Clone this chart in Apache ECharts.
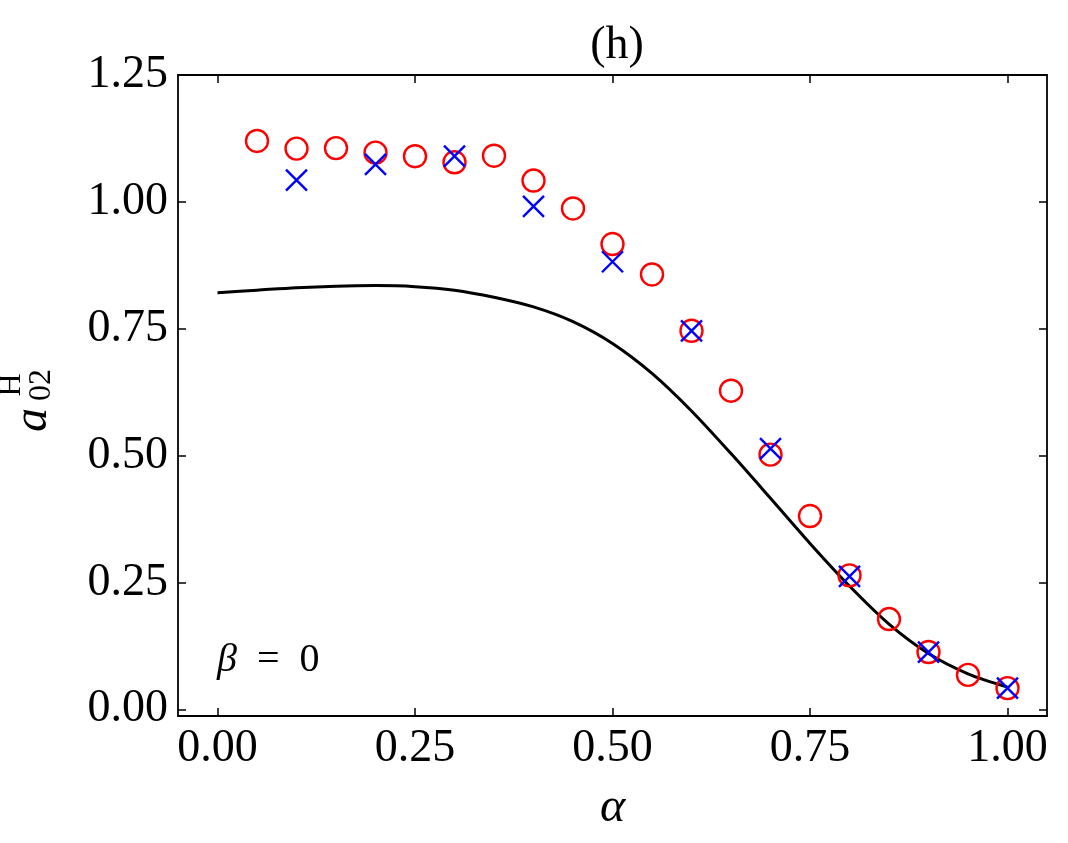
<!DOCTYPE html>
<html>
<head>
<meta charset="utf-8">
<script src="https://cdn.jsdelivr.net/npm/echarts@6/dist/echarts.min.js"></script>
<style>
  html, body { margin: 0; padding: 0; background: #fff; }
  #chart { width: 1068px; height: 843px; }
</style>
</head>
<body>
<div id="chart"></div>
<script>
// data
const alphaCircles = [0.05, 0.10, 0.15, 0.20, 0.25, 0.30, 0.35, 0.40, 0.45, 0.50,
  0.55, 0.60, 0.65, 0.70, 0.75, 0.80, 0.85, 0.90, 0.95, 1.00];
const circleVals = [1.120, 1.105, 1.106, 1.097, 1.090, 1.078, 1.091, 1.042, 0.987, 0.917,
  0.857, 0.746, 0.628, 0.502, 0.381, 0.264, 0.178, 0.113, 0.068, 0.042];

const alphaCrosses = [0.1, 0.2, 0.3, 0.4, 0.5, 0.6, 0.7, 0.8, 0.9, 1.0];
const crossVals = [1.043, 1.074, 1.090, 0.991, 0.882, 0.746, 0.514, 0.262, 0.113, 0.042];

const alphaCurve = [0.00, 0.05, 0.10, 0.15, 0.20, 0.25, 0.30, 0.35, 0.40, 0.45, 0.50,
  0.55, 0.60, 0.65, 0.70, 0.75, 0.80, 0.85, 0.90, 0.95, 1.00];
const curveVals = [0.821, 0.826, 0.831, 0.834, 0.835, 0.833, 0.826, 0.812, 0.793, 0.764, 0.721,
  0.662, 0.588, 0.504, 0.416, 0.327, 0.243, 0.168, 0.110, 0.070, 0.044];

const xTicks = [0, 0.25, 0.5, 0.75, 1.0];
const yTicks = [0, 0.25, 0.5, 0.75, 1.0, 1.25];

const FONT = '"Liberation Serif", "DejaVu Serif", serif';
const X_MIN = -0.05, X_MAX = 1.05;
const Y_MIN = -0.013, Y_MAX = 1.25;

const zip = (xs, ys) => xs.map((x, i) => [x, ys[i]]);

function axisBase(min, max, ticks, position, showLabels) {
  return {
    type: 'value',
    position,
    min,
    max,
    splitLine: { show: false },
    axisLine: { show: true, onZero: false, lineStyle: { color: '#000', width: 1.8 } },
    axisTick: {
      show: true,
      inside: true,
      length: 8,
      customValues: ticks,
      lineStyle: { color: '#000', width: 1.5 }
    },
    axisLabel: {
      show: showLabels,
      customValues: ticks,
      formatter: (v) => v.toFixed(2),
      color: '#000',
      fontFamily: FONT,
      fontSize: 46,
      margin: 10
    }
  };
}

const chart = echarts.init(document.getElementById('chart'), null, { renderer: 'canvas' });

chart.setOption({
  animation: false,
  title: {
    text: '(h)',
    left: 612,
    top: 18,
    textAlign: 'center',
    textStyle: { fontFamily: FONT, fontSize: 46, fontWeight: 'normal', color: '#000' }
  },
  grid: { left: 178, right: 21, top: 75, bottom: 127, outerBoundsMode: 'none', containLabel: false },
  xAxis: [
    Object.assign(axisBase(X_MIN, X_MAX, xTicks, 'bottom', true), {
      name: 'α',
      nameLocation: 'middle',
      nameGap: 68,
      nameTextStyle: { fontFamily: FONT, fontStyle: 'italic', fontSize: 48, color: '#000' }
    }),
    axisBase(X_MIN, X_MAX, xTicks, 'top', false)
  ],
  yAxis: [
    axisBase(Y_MIN, Y_MAX, yTicks, 'left', true),
    axisBase(Y_MIN, Y_MAX, yTicks, 'right', false)
  ],
  graphic: [
    { type: 'text', x: 33, y: 420, rotation: Math.PI / 2,
      style: { text: 'a', font: 'italic 48px ' + FONT, fill: '#000', align: 'center', verticalAlign: 'middle' } },
    { type: 'text', x: 42, y: 385, rotation: Math.PI / 2,
      style: { text: '02', font: '32px ' + FONT, fill: '#000', align: 'center', verticalAlign: 'middle' } },
    { type: 'text', x: 12, y: 385, rotation: Math.PI / 2,
      style: { text: 'H', font: '32px ' + FONT, fill: '#000', align: 'center', verticalAlign: 'middle' } },
    { type: 'text', x: 217, y: 660,
      style: {
        text: '{b|β}{n|\u2002=\u20020}',
        fill: '#000',
        align: 'left',
        verticalAlign: 'middle',
        rich: {
          b: { fontFamily: FONT, fontStyle: 'italic', fontSize: 40, fill: '#000' },
          n: { fontFamily: FONT, fontSize: 40, fill: '#000' }
        }
      } }
  ],
  series: [
    {
      name: 'theory',
      type: 'line',
      data: zip(alphaCurve, curveVals),
      smooth: 0.3,
      showSymbol: false,
      lineStyle: { color: '#000', width: 3 },
      silent: true,
      z: 2
    },
    {
      name: 'circles',
      type: 'scatter',
      data: zip(alphaCircles, circleVals),
      symbol: 'circle',
      symbolSize: 22,
      itemStyle: { color: 'rgba(0,0,0,0)', borderColor: '#ff0000', borderWidth: 2.4, opacity: 1 },
      silent: true,
      z: 3
    },
    {
      name: 'crosses',
      type: 'scatter',
      data: zip(alphaCrosses, crossVals),
      symbol: 'path://M0,0L10,10M10,0L0,10',
      symbolSize: 21,
      itemStyle: { color: 'rgba(0,0,0,0)', borderColor: '#0000ff', borderWidth: 2.4, opacity: 1 },
      silent: true,
      z: 4
    }
  ]
});
</script>
</body>
</html>
